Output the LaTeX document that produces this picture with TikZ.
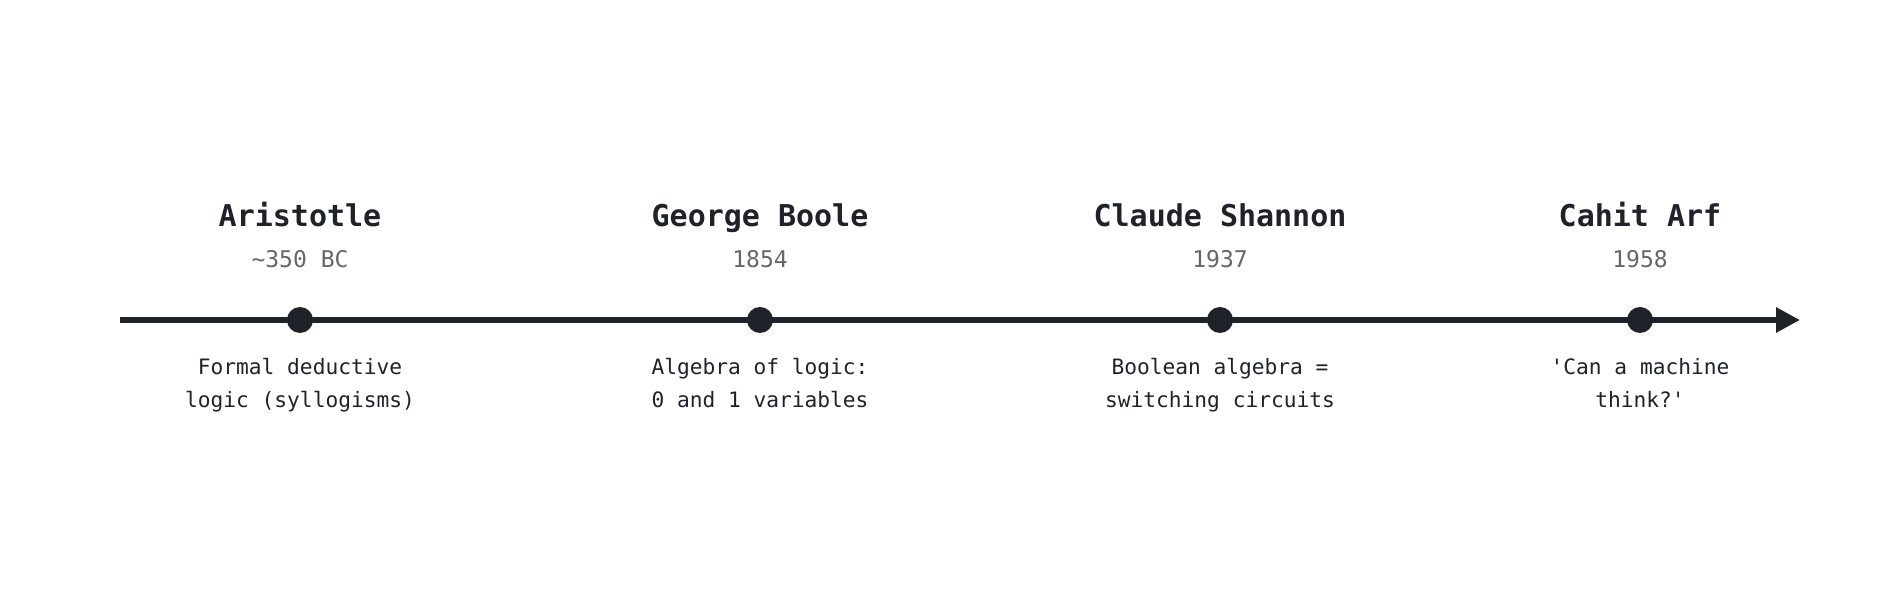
\documentclass[tikz,border=0pt]{standalone}
\usepackage{fontspec}
\setmonofont{DejaVu Sans Mono}
\usepackage{tikz}
\usetikzlibrary{arrows.meta}
\definecolor{ink}{HTML}{1F2229}
\definecolor{dategray}{HTML}{666666}
\tikzstyle{event}=[circle, inner sep=0pt, minimum size=26pt, fill=ink]
\tikzstyle{who}=[anchor=base, text=ink, font=\ttfamily\bfseries\fontsize{30}{36}\selectfont]
\tikzstyle{when}=[anchor=base, text=dategray, font=\ttfamily\fontsize{23}{28}\selectfont]
\tikzstyle{what}=[anchor=base, align=center, text=ink, font=\ttfamily\fontsize{21.2}{33}\selectfont]

\begin{document}
\begin{tikzpicture}[x=1pt, y=1pt]
    \useasboundingbox (0,0) rectangle (1880,600);
    \coordinate (start) at (120,280);
    \coordinate (end) at (1800,280);
    \draw[line width=6pt, ink, -{Triangle[length=24pt, width=24pt]}] (start)--(end);

    \node[event] (aristotle) at (300,280) {};
    \node[event] (boole) at (760,280) {};
    \node[event] (shannon) at (1220,280) {};
    \node[event] (arf) at (1640,280) {};

    \node[who] (aristotle-name) at (300,373) {Aristotle};
    \node[who] (boole-name) at (760,373) {George Boole};
    \node[who] (shannon-name) at (1220,373) {Claude Shannon};
    \node[who] (arf-name) at (1640,373) {Cahit Arf};

    \node[when] (aristotle-year) at (300,332) {\textasciitilde350 BC};
    \node[when] (boole-year) at (760,332) {1854};
    \node[when] (shannon-year) at (1220,332) {1937};
    \node[when] (arf-year) at (1640,332) {1958};

    % last line sits on the base anchor
    \node[what] (aristotle-note) at (300,192) {Formal deductive\\logic (syllogisms)};
    \node[what] (boole-note) at (760,192) {Algebra of logic:\\0 and 1 variables};
    \node[what] (shannon-note) at (1220,192) {Boolean algebra =\\switching circuits};
    \node[what] (arf-note) at (1640,192) {'Can a machine\\think?'};
  \end{tikzpicture}
\end{document}
